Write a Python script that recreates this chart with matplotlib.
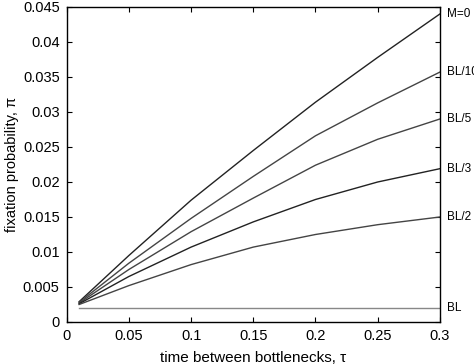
import matplotlib
matplotlib.use("Agg")
import matplotlib.pyplot as plt

plt.rcParams['font.family'] = ['Liberation Sans', 'DejaVu Sans']

tau = [0.01, 0.05, 0.1, 0.15, 0.2, 0.25, 0.3]
m0 = [0.0029, 0.0095, 0.0174, 0.0245, 0.0314, 0.0378, 0.0440]
bl10 = [0.0028, 0.0084, 0.0148, 0.0208, 0.0266, 0.0313, 0.0357]
bl5 = [0.0027, 0.0075, 0.0129, 0.0177, 0.0224, 0.0261, 0.0290]
bl3 = [0.0026, 0.0065, 0.0107, 0.0143, 0.0175, 0.0200, 0.0219]
bl2 = [0.0025, 0.0052, 0.0082, 0.0107, 0.0125, 0.0139, 0.0150]
bl = [0.0020, 0.0020, 0.0020, 0.0020, 0.0020, 0.0020, 0.0020]

series = [("M=0", m0, "#222222"), ("BL/10", bl10, "#444444"), ("BL/5", bl5, "#444444"),
          ("BL/3", bl3, "#222222"), ("BL/2", bl2, "#444444"), ("BL", bl, "#888888")]

xticks = [0, 0.05, 0.1, 0.15, 0.2, 0.25, 0.3]
xticklabels = ["0", "0.05", "0.1", "0.15", "0.2", "0.25", "0.3"]
yticks = [0, 0.005, 0.01, 0.015, 0.02, 0.025, 0.03, 0.035, 0.04, 0.045]
yticklabels = ["0", "0.005", "0.01", "0.015", "0.02", "0.025", "0.03", "0.035", "0.04", "0.045"]

fig = plt.figure(figsize=(4.74, 3.64), dpi=100)
ax = fig.add_axes([0.1407, 0.1154, 0.7873, 0.8654])

for name, ys, col in series:
    ax.plot(tau, ys, color=col, lw=1.0)
    ax.annotate(name, xy=(tau[-1], ys[-1]), xycoords='data',
                xytext=(5, 0), textcoords='offset points',
                va='center', ha='left', fontsize=8.5, annotation_clip=False)

ax.set_xlim(0, 0.3)
ax.set_ylim(0, 0.045)
ax.set_xticks(xticks)
ax.set_xticklabels(xticklabels)
ax.set_yticks(yticks)
ax.set_yticklabels(yticklabels)
ax.tick_params(direction='in', length=3.5, width=0.8, top=True, right=True,
               labelsize=10.5, pad=5)
for s in ax.spines.values():
    s.set_linewidth(1.0)

ax.set_xlabel("time between bottlenecks, \u03c4", fontsize=11, labelpad=6)
ax.set_ylabel("fixation probability, \u03c0", fontsize=10.5, labelpad=3)

fig.savefig("out.png", dpi=100)
